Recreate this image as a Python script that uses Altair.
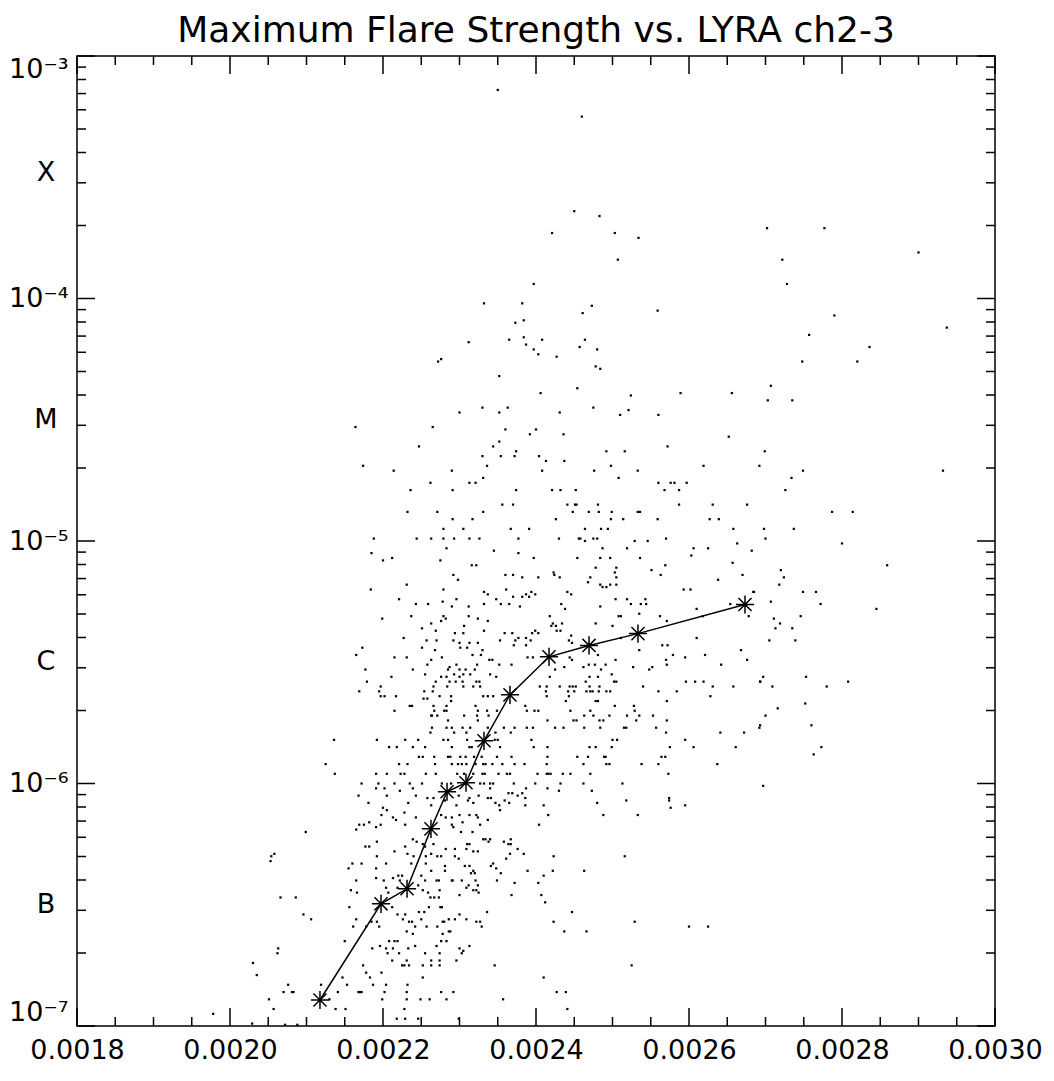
import altair as alt
import pandas as pd

FONT = "DejaVu Sans"
TITLE = "Maximum Flare Strength vs. LYRA ch2-3"

# Scatter points: (LYRA ch2-3 signal in units of 1e-6, log10 of GOES peak flux)
pts_top = [(2350,-3.14),(2332,-4.02),(2382,-4.02),(2460,-3.25),(2450,-3.64),(2483,-3.66),(2421,-3.73),(2503,-3.73),
           (2534,-3.75),(2507,-3.84),(2397,-3.94),(2702,-3.71),(2777,-3.71),(2722,-3.84),(2728,-3.94),(2900,-3.81)]

pts_upper_left = [(2373,-4.10),(2384,-4.09),(2365,-4.17),(2384,-4.16),(2387,-4.19),(2312,-4.18),(2272,-4.26),(2276,-4.25),
    (2352,-4.32),(2300,-4.47),(2330,-4.45),(2352,-4.47),(2363,-4.45),(2164,-4.53),(2265,-4.53),(2360,-4.54),(2392,-4.56),
    (2247,-4.61),(2344,-4.61),(2352,-4.59),(2330,-4.65),(2354,-4.65),(2372,-4.65),(2374,-4.63),(2174,-4.69),(2214,-4.71),
    (2290,-4.71),(2336,-4.69),(2262,-4.76),(2313,-4.76),(2321,-4.76),(2331,-4.74),(2236,-4.79),(2291,-4.79),(2374,-4.79),
    (2232,-4.88),(2271,-4.88),(2331,-4.88),(2356,-4.85),(2370,-4.85),(2291,-4.91),(2317,-4.91),(2279,-4.95),(2305,-4.95),
    (2367,-4.95),(2391,-4.95),(2188,-4.99),(2244,-4.99),(2263,-4.99),(2279,-4.99),(2293,-4.99),(2313,-4.99),(2326,-4.99),
    (2377,-4.99),(2283,-5.03),(2345,-5.04),(2377,-5.05),(2185,-5.05),(2212,-5.07)]

pts_upper_right = [(2473,-4.03),(2461,-4.06),(2559,-4.05),(2790,-4.07),(2937,-4.12),(2757,-4.15),(2836,-4.20),(2408,-4.17),
    (2397,-4.21),(2403,-4.23),(2427,-4.24),(2457,-4.20),(2464,-4.17),(2480,-4.21),(2478,-4.28),(2484,-4.29),(2748,-4.26),
    (2820,-4.26),(2707,-4.36),(2454,-4.37),(2406,-4.39),(2524,-4.40),(2589,-4.39),(2656,-4.39),(2703,-4.42),(2735,-4.42),
    (2475,-4.45),(2431,-4.47),(2521,-4.46),(2510,-4.48),(2560,-4.48),(2400,-4.54),(2436,-4.56),(2652,-4.57),(2572,-4.61),
    (2492,-4.63),(2516,-4.63),(2699,-4.63),(2404,-4.65),(2413,-4.67),(2437,-4.67),(2498,-4.69),(2619,-4.69),(2692,-4.69),
    (2408,-4.71),(2476,-4.71),(2533,-4.71),(2508,-4.74),(2734,-4.74),(2749,-4.71),(2932,-4.71),(2560,-4.76),(2576,-4.76),
    (2581,-4.76),(2597,-4.76),(2568,-4.79),(2587,-4.79),(2421,-4.79),(2432,-4.79),(2452,-4.79),(2726,-4.79),(2441,-4.85),
    (2451,-4.85),(2453,-4.85),(2481,-4.85),(2587,-4.85),(2631,-4.85),(2676,-4.85),(2448,-4.88),(2469,-4.88),(2482,-4.88),
    (2499,-4.88),(2533,-4.88),(2536,-4.88),(2787,-4.88),(2814,-4.88),(2426,-4.91),(2498,-4.91),(2514,-4.91),(2559,-4.91),
    (2627,-4.91),(2639,-4.91),(2464,-4.95),(2485,-4.95),(2494,-4.95),(2658,-4.95),(2698,-4.95),(2737,-4.95),(2430,-4.99),
    (2456,-4.99),(2458,-4.99),(2464,-5.00),(2475,-4.99),(2480,-4.99),(2529,-5.00),(2546,-5.00),(2570,-4.99),(2700,-4.99),
    (2663,-5.01),(2800,-5.01),(2487,-5.03),(2519,-5.03),(2606,-5.03),(2625,-5.03),(2682,-5.04),(2397,-5.07),(2454,-5.07),
    (2484,-5.07),(2497,-5.07),(2536,-5.07),(2603,-5.06)]

pts_mid_left = [(2200,-5.08),(2275,-5.08),(2316,-5.10),(2322,-5.10),(2292,-5.14),(2360,-5.14),(2298,-5.16),(2231,-5.18),
    (2184,-5.20),(2279,-5.20),(2361,-5.20),(2332,-5.21),(2337,-5.22),(2221,-5.24),(2278,-5.25),(2296,-5.24),(2348,-5.24),
    (2243,-5.26),(2259,-5.26),(2290,-5.27),(2312,-5.27),(2332,-5.26),(2354,-5.26),(2365,-5.26),(2237,-5.31),(2279,-5.31),
    (2312,-5.31),(2199,-5.32),(2276,-5.33),(2282,-5.32),(2324,-5.32),(2337,-5.33),(2263,-5.34),(2306,-5.35),(2251,-5.36),
    (2269,-5.37),(2294,-5.38),(2305,-5.38),(2332,-5.37),(2359,-5.38),(2227,-5.40),(2257,-5.41),(2270,-5.41),(2292,-5.41),
    (2300,-5.42),(2313,-5.42),(2324,-5.42),(2353,-5.41),(2173,-5.44),(2251,-5.44),(2301,-5.44),(2310,-5.44),(2268,-5.45),
    (2330,-5.45),(2165,-5.47),(2317,-5.47),(2328,-5.47),(2215,-5.48),(2231,-5.48),(2277,-5.48),(2263,-5.49),(2339,-5.49),
    (2343,-5.49),(2258,-5.51),(2296,-5.51),(2323,-5.51),(2352,-5.51),(2287,-5.52),(2177,-5.53),(2239,-5.53),(2285,-5.53),
    (2300,-5.53),(2308,-5.53),(2320,-5.53),(2255,-5.55),(2293,-5.55),(2305,-5.55),(2314,-5.55),(2340,-5.55),(2211,-5.56),
    (2276,-5.56),(2283,-5.56),(2300,-5.56),(2348,-5.56),(2179,-5.58),(2269,-5.58),(2287,-5.58),(2295,-5.58),(2304,-5.58),
    (2322,-5.58),(2326,-5.58),(2197,-5.60),(2266,-5.60),(2284,-5.60),(2305,-5.60),(2318,-5.60),(2327,-5.60),(2169,-5.62),
    (2195,-5.62),(2254,-5.62),(2265,-5.62),(2197,-5.64),(2202,-5.64),(2217,-5.64),(2274,-5.64),(2289,-5.64),(2331,-5.64),
    (2337,-5.64),(2344,-5.64),(2253,-5.65),(2258,-5.65),(2289,-5.66),(2235,-5.68),(2238,-5.68),(2266,-5.68),(2283,-5.68),
    (2321,-5.68),(2215,-5.70),(2267,-5.70),(2280,-5.70),(2283,-5.70),(2324,-5.70),(2336,-5.70),(2349,-5.70),(2263,-5.72),
    (2264,-5.72),(2271,-5.72),(2306,-5.72),(2323,-5.72),(2338,-5.72),(2285,-5.74),(2324,-5.74),(2264,-5.77),(2283,-5.77),
    (2290,-5.77),(2304,-5.77),(2314,-5.77),(2337,-5.77),(2358,-5.77),(2262,-5.79),(2293,-5.79),(2309,-5.79),(2347,-5.79),
    (2136,-5.82),(2192,-5.82),(2229,-5.82),(2246,-5.82),(2279,-5.82),(2285,-5.82),(2310,-5.82),(2346,-5.82),(2350,-5.82),
    (2208,-5.85),(2218,-5.85),(2239,-5.85),(2255,-5.85),(2290,-5.85),(2313,-5.85),(2316,-5.85),(2353,-5.85),(2247,-5.89),
    (2252,-5.89),(2267,-5.89),(2285,-5.89),(2288,-5.89),(2301,-5.89),(2308,-5.89),(2319,-5.89),(2329,-5.89),(2349,-5.89),
    (2125,-5.92),(2221,-5.92),(2232,-5.92),(2268,-5.92),(2290,-5.92),(2298,-5.92),(2303,-5.92),(2309,-5.92),(2321,-5.92),
    (2331,-5.92),(2334,-5.92),(2343,-5.92),(2356,-5.92),(2137,-5.96),(2191,-5.96),(2205,-5.96),(2223,-5.96),(2228,-5.96),
    (2256,-5.96),(2269,-5.96),(2297,-5.96),(2306,-5.96),(2318,-5.96),(2330,-5.96),(2333,-5.96),(2351,-5.96),(2362,-5.96),
    (2172,-6.00),(2194,-6.00),(2215,-6.00),(2235,-6.00),(2251,-6.00),(2277,-6.00),(2289,-6.00),(2327,-6.00),(2332,-6.00),
    (2340,-6.00),(2344,-6.00),(2191,-6.02),(2202,-6.02),(2222,-6.03),(2239,-6.02),(2340,-6.02),(2168,-6.05),(2205,-6.05),
    (2243,-6.05),(2258,-6.06),(2266,-6.06),(2299,-6.05),(2313,-6.06),(2325,-6.05),(2337,-6.06),(2341,-6.06),(2364,-6.04)]

pts_mid_right = [(2370,-5.14),(2382,-5.15),(2403,-5.15),(2423,-5.13),(2424,-5.14),(2431,-5.15),(2478,-5.11),(2471,-5.15),
    (2468,-5.17),(2484,-5.18),(2487,-5.19),(2492,-5.19),(2497,-5.18),(2505,-5.11),(2503,-5.13),(2505,-5.15),(2505,-5.18),
    (2551,-5.12),(2563,-5.14),(2569,-5.10),(2593,-5.20),(2602,-5.20),(2638,-5.16),(2657,-5.09),(2670,-5.14),(2685,-5.21),
    (2370,-5.23),(2382,-5.23),(2387,-5.22),(2391,-5.23),(2394,-5.21),(2399,-5.22),(2441,-5.21),(2446,-5.22),(2379,-5.27),
    (2433,-5.26),(2438,-5.28),(2504,-5.24),(2519,-5.24),(2524,-5.26),(2537,-5.26),(2543,-5.24),(2544,-5.26),(2535,-5.30),
    (2484,-5.27),(2508,-5.31),(2511,-5.31),(2418,-5.31),(2422,-5.34),(2420,-5.35),(2426,-5.35),(2434,-5.34),(2427,-5.37),
    (2432,-5.37),(2446,-5.39),(2395,-5.38),(2399,-5.37),(2403,-5.38),(2393,-5.41),(2369,-5.38),(2373,-5.41),(2377,-5.40),
    (2387,-5.40),(2371,-5.43),(2387,-5.43),(2443,-5.41),(2447,-5.42),(2478,-5.34),(2500,-5.35),(2511,-5.40),(2562,-5.31),
    (2571,-5.33),(2610,-5.28),(2618,-5.31),(2654,-5.26),(2678,-5.31),(2684,-5.21),(2610,-5.40),(2535,-5.45),(2565,-5.43),
    (2572,-5.43),(2579,-5.47),(2548,-5.53),(2552,-5.52),(2570,-5.49),(2571,-5.51),(2595,-5.48),(2621,-5.47),(2642,-5.51),
    (2668,-5.45),(2676,-5.49),(2389,-5.48),(2396,-5.48),(2368,-5.51),(2437,-5.52),(2444,-5.48),(2447,-5.49),(2462,-5.52),
    (2469,-5.51),(2477,-5.51),(2481,-5.47),(2491,-5.51),(2504,-5.49),(2425,-5.53),(2418,-5.56),(2470,-5.56),(2481,-5.56),
    (2499,-5.55),(2502,-5.58),(2505,-5.58),(2485,-5.53),(2405,-5.60),(2414,-5.60),(2431,-5.60),(2444,-5.60),(2448,-5.60),
    (2452,-5.60),(2465,-5.58),(2470,-5.60),(2483,-5.60),(2413,-5.62),(2414,-5.64),(2442,-5.62),(2450,-5.62),(2443,-5.64),
    (2466,-5.62),(2471,-5.62),(2474,-5.62),(2482,-5.62),(2492,-5.62),(2497,-5.62),(2527,-5.52),(2540,-5.60),(2560,-5.62),
    (2584,-5.62),(2596,-5.58),(2608,-5.58),(2619,-5.58),(2631,-5.60),(2628,-5.64),(2658,-5.60),(2693,-5.58),(2386,-5.68),
    (2388,-5.70),(2398,-5.70),(2403,-5.70),(2445,-5.70),(2439,-5.66),(2478,-5.66),(2481,-5.66),(2503,-5.68),(2528,-5.68),
    (2529,-5.70),(2471,-5.70),(2463,-5.72),(2475,-5.72),(2496,-5.72),(2519,-5.72),(2535,-5.72),(2553,-5.72),(2571,-5.66),
    (2571,-5.74),(2449,-5.74),(2453,-5.74),(2415,-5.74),(2483,-5.74),(2488,-5.74),(2531,-5.74),(2372,-5.77),(2388,-5.77),
    (2396,-5.77),(2425,-5.77),(2436,-5.77),(2463,-5.77),(2484,-5.77),(2515,-5.77),(2518,-5.77),(2557,-5.77),(2570,-5.79),
    (2595,-5.82),(2575,-5.85),(2606,-5.85),(2641,-5.79),(2672,-5.79),(2661,-5.85),(2692,-5.77),(2367,-5.79),(2394,-5.82),
    (2397,-5.85),(2415,-5.85),(2500,-5.82),(2506,-5.82),(2368,-5.89),(2415,-5.89),(2470,-5.85),(2478,-5.85),(2499,-5.85),
    (2454,-5.89),(2468,-5.89),(2489,-5.89),(2491,-5.89),(2372,-5.92),(2385,-5.92),(2414,-5.92),(2462,-5.92),(2492,-5.92),
    (2496,-5.92),(2538,-5.92),(2560,-5.92),(2564,-5.89),(2569,-5.89),(2637,-5.92),(2366,-5.96),(2402,-5.96),(2414,-5.96),
    (2416,-5.96),(2419,-5.96),(2435,-5.96),(2445,-5.96),(2471,-5.96),(2513,-6.00),(2573,-5.96),(2371,-6.00),(2399,-6.00),
    (2432,-6.00),(2462,-6.00),(2369,-6.04),(2387,-6.02),(2415,-6.02),(2430,-6.03),(2473,-6.03),(2382,-6.04),(2376,-6.05),
    (2386,-6.06),(2574,-6.06)]

pts_far_right = [(2859,-5.10),(2720,-5.12),(2724,-5.15),(2718,-5.18),(2749,-5.21),(2766,-5.21),(2772,-5.26),(2707,-5.25),
    (2746,-5.31),(2711,-5.32),(2713,-5.36),(2719,-5.34),(2735,-5.36),(2705,-5.41),(2739,-5.41),(2845,-5.28),(2697,-5.56),
    (2693,-5.58),(2709,-5.60),(2753,-5.56),(2780,-5.60),(2808,-5.58),(2752,-5.67),(2716,-5.69),(2700,-5.72),(2693,-5.76),
    (2760,-5.76),(2773,-5.85),(2763,-5.88),(2697,-6.01)]

pts_low_left = [(2181,-6.08),(2200,-6.10),(2205,-6.11),(2233,-6.08),(2263,-6.09),(2281,-6.07),(2296,-6.09),(2311,-6.07),
    (2318,-6.08),(2347,-6.08),(2352,-6.09),(2359,-6.07),(2198,-6.13),(2213,-6.14),(2217,-6.15),(2228,-6.12),(2243,-6.14),
    (2169,-6.17),(2175,-6.17),(2182,-6.16),(2191,-6.18),(2197,-6.17),(2165,-6.19),(2229,-6.17),(2276,-6.13),(2282,-6.14),
    (2290,-6.14),(2290,-6.17),(2292,-6.18),(2300,-6.13),(2313,-6.13),(2322,-6.13),(2324,-6.14),(2337,-6.15),(2353,-6.11),
    (2365,-6.08),(2304,-6.16),(2317,-6.20),(2327,-6.17),(2099,-6.20),(2302,-6.20),(2310,-6.25),(2313,-6.25),(2331,-6.23),
    (2334,-6.23),(2338,-6.24),(2340,-6.23),(2358,-6.24),(2364,-6.25),(2366,-6.29),(2361,-6.31),(2177,-6.26),(2182,-6.26),
    (2192,-6.24),(2215,-6.28),(2229,-6.26),(2232,-6.29),(2239,-6.23),(2244,-6.24),(2240,-6.30),(2252,-6.25),(2255,-6.26),
    (2266,-6.25),(2271,-6.30),(2276,-6.30),(2282,-6.27),(2294,-6.27),(2294,-6.30),(2309,-6.27),(2318,-6.28),(2324,-6.28),
    (2192,-6.30),(2256,-6.30),(2263,-6.29),(2058,-6.29),(2054,-6.30),(2053,-6.32),(2155,-6.35),(2160,-6.33),(2172,-6.33),
    (2191,-6.35),(2204,-6.33),(2237,-6.33),(2256,-6.33),(2263,-6.36),(2281,-6.34),(2281,-6.36),(2299,-6.31),(2307,-6.34),
    (2313,-6.34),(2318,-6.36),(2315,-6.37),(2320,-6.37),(2321,-6.40),(2341,-6.34),(2344,-6.33),(2348,-6.35),(2354,-6.37),
    (2349,-6.40),(2220,-6.38),(2225,-6.38),(2222,-6.40),(2165,-6.40),(2191,-6.39),(2201,-6.40),(2213,-6.39),(2250,-6.38),
    (2255,-6.40),(2270,-6.40),(2273,-6.40),(2290,-6.40),(2291,-6.40),(2303,-6.40),(2312,-6.42),(2324,-6.42),(2158,-6.44),
    (2166,-6.45),(2204,-6.43),(2207,-6.45),(2219,-6.43),(2246,-6.42),(2252,-6.44),(2259,-6.45),(2262,-6.47),(2267,-6.47),
    (2273,-6.47),(2274,-6.44),(2300,-6.46),(2309,-6.43),(2318,-6.44),(2322,-6.44),(2325,-6.45),(2066,-6.47),(2086,-6.47),
    (2156,-6.51),(2212,-6.51),(2219,-6.54),(2229,-6.54),(2247,-6.53),(2254,-6.53),(2260,-6.51),(2275,-6.51),(2277,-6.51),
    (2286,-6.56),(2294,-6.56),(2300,-6.54),(2309,-6.56),(2322,-6.57),(2327,-6.57),(2329,-6.59),(2336,-6.53),(2096,-6.54),
    (2106,-6.56),(2165,-6.56),(2161,-6.59),(2178,-6.59),(2185,-6.57),(2192,-6.57),(2195,-6.59),(2226,-6.56),(2234,-6.57),
    (2238,-6.57),(2242,-6.59),(2250,-6.56),(2257,-6.59),(2271,-6.59),(2278,-6.57),(2280,-6.57),(2286,-6.61),(2239,-6.62),
    (2231,-6.61),(2208,-6.65),(2215,-6.65),(2219,-6.65),(2278,-6.62),(2283,-6.65),(2288,-6.61),(2150,-6.65),(2196,-6.67),
    (2186,-6.68),(2204,-6.68),(2206,-6.70),(2213,-6.68),(2221,-6.70),(2233,-6.68),(2242,-6.67),(2255,-6.70),(2263,-6.73),
    (2270,-6.67),(2274,-6.70),(2274,-6.73),(2276,-6.65),(2300,-6.68),(2303,-6.70),(2305,-6.69),(2313,-6.67),(2063,-6.68),
    (2062,-6.70),(2212,-6.73),(2225,-6.75),(2228,-6.75),(2231,-6.73),(2234,-6.75),(2252,-6.75),(2263,-6.75),(2274,-6.75),
    (2296,-6.73),(2346,-6.75),(2174,-6.75),(2178,-6.78),(2198,-6.78),(2183,-6.80),(2147,-6.80),(2252,-6.80),(2187,-6.83),
    (2204,-6.83),(2232,-6.83),(2153,-6.83),(2119,-6.83),(2076,-6.83),(2070,-6.86),(2081,-6.86),(2083,-6.86),(2141,-6.86),
    (2168,-6.86),(2170,-6.86),(2172,-6.86),(2202,-6.86),(2231,-6.86),(2276,-6.86),(2292,-6.86),(2051,-6.89),(2130,-6.89),
    (2199,-6.89),(2231,-6.89),(2249,-6.89),(2261,-6.89),(2283,-6.89),(2357,-6.89),(2057,-6.93),(2138,-6.93),(2151,-6.93),
    (2228,-6.93),(2218,-6.97),(2229,-6.97),(2246,-6.97),(2299,-6.97),(2072,-6.995),(2088,-6.995),
    (2030,-6.74),(2035,-6.79),(1978,-6.95),(2029,-6.99)]

pts_low_right = [(2386,-6.09),(2410,-6.09),(2416,-6.13),(2480,-6.08),(2488,-6.13),(2518,-6.07),(2533,-6.13),(2574,-6.07),
    (2576,-6.10),(2595,-6.09),(2404,-6.17),(2367,-6.23),(2367,-6.25),(2376,-6.27),(2384,-6.29),(2423,-6.30),(2516,-6.30),
    (2389,-6.36),(2410,-6.38),(2422,-6.36),(2463,-6.36),(2372,-6.41),(2403,-6.41),(2368,-6.46),(2407,-6.46),(2412,-6.49),
    (2447,-6.53),(2423,-6.57),(2437,-6.61),(2466,-6.61),(2529,-6.57),(2600,-6.59),(2625,-6.59),(2525,-6.75),(2410,-6.80),
    (2427,-6.86),(2439,-6.86),(2441,-6.93)]

# Binned medians (asterisks joined by a line)
star_x = [0.0021176, 0.0021974, 0.0022314, 0.0022627, 0.0022837, 0.0023085,
          0.0023320, 0.0023660, 0.0024170, 0.0024693, 0.0025333, 0.0026732]
star_flux = [1.28e-7, 3.19e-7, 3.68e-7, 6.50e-7, 9.25e-7, 1.007e-6,
             1.50e-6, 2.32e-6, 3.33e-6, 3.71e-6, 4.15e-6, 5.47e-6]

class_labels = ["X", "M", "C", "B"]
class_flux = [3.3e-4, 3.16e-5, 3.16e-6, 3.16e-7]

x_major = [0.0018, 0.0020, 0.0022, 0.0024, 0.0026, 0.0028, 0.0030]
x_minor = [0.00185, 0.0019, 0.00195, 0.00205, 0.0021, 0.00215, 0.00225, 0.0023, 0.00235,
           0.00245, 0.0025, 0.00255, 0.00265, 0.0027, 0.00275, 0.00285, 0.0029, 0.00295]
y_major = [1e-7, 1e-6, 1e-5, 1e-4, 1e-3]
y_minor = [m * d for d in [1e-7, 1e-6, 1e-5, 1e-4] for m in range(2, 10)]

W, H = 918, 970
MAJ, MIN = 18, 9

all_pts = pts_top + pts_upper_left + pts_upper_right + pts_mid_left + pts_mid_right + pts_far_right + pts_low_left + pts_low_right
scatter_df = pd.DataFrame({
    "lyra": [p[0] * 1e-6 for p in all_pts],
    "flux": [10 ** p[1] for p in all_pts],
})
star_df = pd.DataFrame({"lyra": star_x, "flux": star_flux, "i": list(range(len(star_x)))})
class_df = pd.DataFrame({"label": class_labels, "flux": class_flux})

xs = alt.Scale(domain=[0.0018, 0.0030], nice=False, zero=False)
ys = alt.Scale(type="log", domain=[1e-7, 1e-3], nice=False)

y_label_expr = ("datum.value < 5e-7 ? '10⁻⁷' : datum.value < 5e-6 ? '10⁻⁶' : "
                "datum.value < 5e-5 ? '10⁻⁵' : datum.value < 5e-4 ? '10⁻⁴' : '10⁻³'")

x_axis = alt.Axis(values=x_major, format=".4f", labelPadding=11, labelFlush=False,
                  labelOverlap=False, labelBound=False, title=None)
y_axis = alt.Axis(values=y_major, labelExpr=y_label_expr, labelPadding=9, labelFlush=True,
                  labelFlushOffset=0, labelOverlap=False, labelBound=False, title=None)

X = lambda f: alt.X(f, scale=xs, axis=x_axis, title=None)
Y = lambda f: alt.Y(f, scale=ys, axis=y_axis, title=None)

scatter = alt.Chart(scatter_df).mark_square(size=5, color="black", opacity=1, clip=True).encode(
    x=X("lyra:Q"), y=Y("flux:Q"))

line = alt.Chart(star_df).mark_line(color="black", strokeWidth=1.5).encode(
    x=X("lyra:Q"), y=Y("flux:Q"), order="i:Q")

star_shape = "M-1,0L1,0M0,-1L0,1M-0.72,-0.72L0.72,0.72M-0.72,0.72L0.72,-0.72"
stars = alt.Chart(star_df).mark_point(shape=star_shape, size=330, filled=False, stroke="black",
                                      strokeWidth=1.5, opacity=1).encode(
    x=X("lyra:Q"), y=Y("flux:Q"))

def xticks(vals, length):
    d = pd.DataFrame({"v": vals})
    bottom = alt.Chart(d).mark_rule(color="black", strokeWidth=1.5).encode(
        x=X("v:Q"), y=alt.value(H), y2=alt.value(H - length))
    top = alt.Chart(d).mark_rule(color="black", strokeWidth=1.5).encode(
        x=X("v:Q"), y=alt.value(0), y2=alt.value(length))
    return [bottom, top]

def yticks(vals, length):
    d = pd.DataFrame({"v": vals})
    left = alt.Chart(d).mark_rule(color="black", strokeWidth=1.5).encode(
        y=Y("v:Q"), x=alt.value(0), x2=alt.value(length))
    right = alt.Chart(d).mark_rule(color="black", strokeWidth=1.5).encode(
        y=Y("v:Q"), x=alt.value(W), x2=alt.value(W - length))
    return [left, right]

classes = alt.Chart(class_df).mark_text(font=FONT, fontSize=27, color="black", align="center",
                                        baseline="middle").encode(
    x=alt.value(-31), y=Y("flux:Q"), text="label:N")

layers = [scatter, line, stars, classes] + xticks(x_major, MAJ) + xticks(x_minor, MIN) \
    + yticks(y_major, MAJ) + yticks(y_minor, MIN)

chart = alt.layer(*layers).properties(
    width=W, height=H,
    title=alt.TitleParams(TITLE, font=FONT, fontSize=36, fontWeight="normal", color="black",
                          anchor="middle", offset=5),
    autosize=alt.AutoSizeParams(type="none"),
    padding={"left": 69, "top": 48, "right": 50, "bottom": 42},
    background="white",
).configure_view(
    stroke="black", strokeWidth=1.5
).configure_axis(
    grid=False, ticks=False, domain=False, labelFont=FONT, labelFontSize=27,
    labelColor="black", labelFontWeight="normal"
)

chart.save("out.html", embed_options={"renderer": "svg", "actions": False})
